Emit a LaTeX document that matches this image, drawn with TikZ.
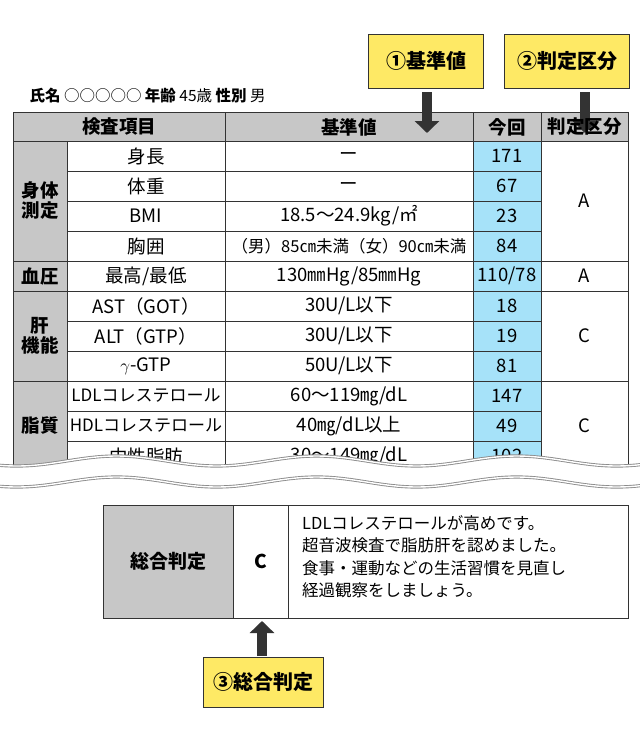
\documentclass[tikz,border=0pt]{standalone}
\usepackage{fontspec}
\setmainfont{Noto Sans CJK JP}
\usetikzlibrary{arrows.meta}
\begin{document}
\begin{tikzpicture}[x=1pt,y=-1pt,
  cell/.style={draw=black!80,line width=0.8pt},
  hdr/.style={font=\bfseries\fontsize{18.5}{20}\selectfont},
  txt/.style={font=\fontsize{18.5}{20}\selectfont},
  yel/.style={draw=black!80,fill=yellow!80!orange!60,line width=0.8pt,font=\bfseries\fontsize{20}{22}\selectfont,inner sep=0pt},
  arr/.style={-{Triangle[length=12pt,width=24pt]},line width=10pt,draw=black!80}]
\useasboundingbox (0,0) rectangle (640,734);
\fill[white] (0,0) rectangle (640,734);
% yellow boxes
\node[yel,minimum width=115pt,minimum height=54pt] (y1) at (426,61) {①基準値};
\node[yel,minimum width=125pt,minimum height=54pt] (y2) at (567,61) {②判定区分};
\node[anchor=base west,font=\fontsize{15.5}{17}\selectfont] (nm) at (26,101) {\textbf{氏名} ○○○○○ \textbf{年齢} 45歳 \textbf{性別} 男};
% table fills
\fill[black!22] (13,112) rectangle (628,141);
\fill[black!22] (13,141) rectangle (67,470);
\fill[cyan!35!white] (473,141) rectangle (541,470);
% grid
\foreach \y in {112,141,261,291,381} \draw[cell] (13,\y) -- (628,\y);
\foreach \y in {171,201,231,321,351,411,441} \draw[cell] (67,\y) -- (541,\y);
\draw[cell] (13,112) -- (13,470);
\draw[cell] (628,112) -- (628,470);
\foreach \x in {67,225,473,541} \draw[cell] (\x,141) -- (\x,470);
\foreach \x in {225,473,541} \draw[cell] (\x,112) -- (\x,141);
% arrows on top
\coordinate (t1) at (427,133); \coordinate (t2) at (585,133);
\draw[arr] (427,92) -- (t1);
\draw[arr] (585,92) -- (t2);
% header
\node[hdr] (h1) at (119,127) {検査項目};
\node[hdr] (h2) at (349,127) {基準値};
\node[hdr] (h3) at (507,127) {今回};
\node[hdr] (h4) at (584.5,127) {判定区分};
% categories
\node[hdr,align=center] (c1) at (40,201) {身体\\測定};
\node[hdr] (c2) at (40,276) {血圧};
\node[hdr,align=center] (c3) at (40,336) {肝\\機能};
\node[hdr] (c4) at (40,426) {脂質};
% rows
\foreach \y/\a/\b/\c in {156/身長/ー/171,186/体重/ー/67,216/BMI/{18.5〜24.9kg/㎡}/23,246/胸囲/{\fontsize{16.5}{18}\selectfont （男）85㎝未満（女）90㎝未満}/84,276/{最高/最低}/{130㎜Hg/85㎜Hg}/{110/78},306/AST（GOT）/{30U/L以下}/18,336/ALT（GTP）/{30U/L以下}/19,366/$\gamma$-GTP/{50U/L以下}/81,396/{\fontsize{17}{18}\selectfont LDLコレステロール}/{60〜119㎎/dL}/147,426/{\fontsize{17}{18}\selectfont HDLコレステロール}/{40㎎/dL以上}/49,456/中性脂肪/{30〜149㎎/dL}/102}{
  \node[txt] at (146,\y) {\a};
  \node[txt] at (349,\y) {\b};
  \node[txt] at (507,\y) {\c};
}
\node[txt] (j1) at (584.5,201) {A};
\node[txt] (j2) at (584.5,276) {A};
\node[txt] (j3) at (584.5,336) {C};
\node[txt] (j4) at (584.5,426) {C};
% wave cut
\fill[white] plot[domain=0:640,samples=120] (\x,{461+5*sin(\x*1.8+60)}) -- (640,500) -- (0,500) -- cycle;
\foreach \yy in {461,482}{
  \draw[black!45,line width=3.2pt] plot[domain=0:640,samples=120] (\x,{\yy+5*sin(\x*1.8+60)});
  \draw[white,line width=1.4pt] plot[domain=0:640,samples=120] (\x,{\yy+5*sin(\x*1.8+60)});
}
% bottom summary
\fill[black!22] (103,505) rectangle (233,618);
\draw[cell] (103,505) rectangle (628,618);
\draw[cell] (233,505) -- (233,618);
\draw[cell] (288,505) -- (288,618);
\node[font=\bfseries\fontsize{19}{20}\selectfont] (s1) at (168,561.5) {総合判定};
\node[font=\bfseries\fontsize{19}{20}\selectfont] (s2) at (260.5,561.5) {C};
\node[anchor=north west,align=left,font=\fontsize{16.5}{22.5}\selectfont,inner sep=0pt] (s3) at (302,515) {LDLコレステロールが高めです。\\超音波検査で脂肪肝を認めました。\\食事・運動などの生活習慣を見直し\\経過観察をしましょう。};
\node[yel,minimum width=120pt,minimum height=50pt] (y3) at (263,682) {③総合判定};
\coordinate (t3) at (262,621);
\draw[arr] (262,656) -- (t3);
\end{tikzpicture}
\end{document}
